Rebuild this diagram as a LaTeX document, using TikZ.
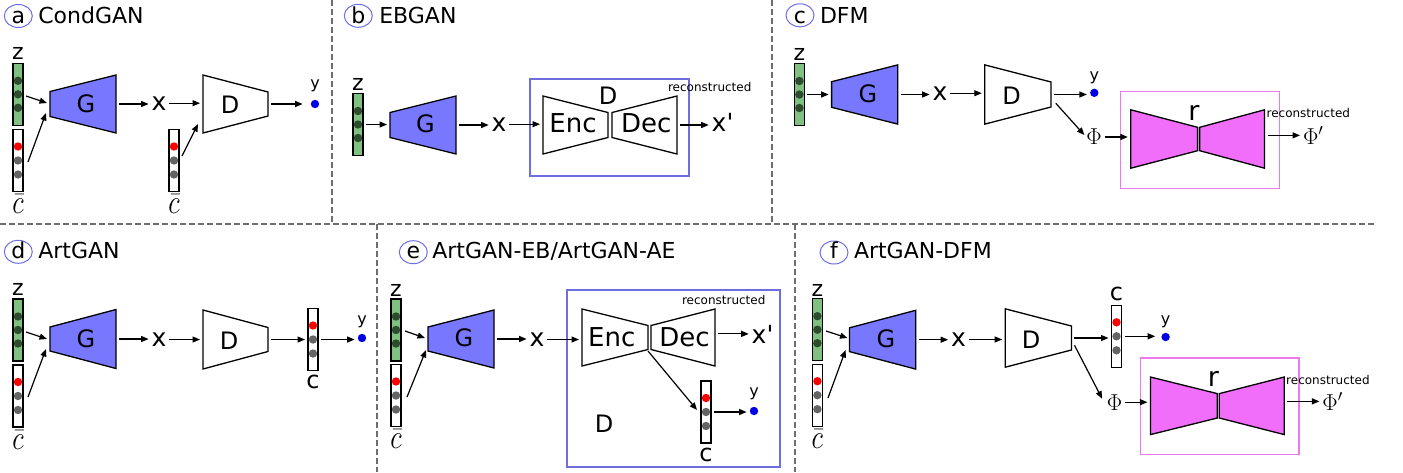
\RequirePackage{fix-cm}
\documentclass[tikz,border=0pt]{standalone}
\usepackage[no-math]{fontspec}
\setmainfont{DejaVu Sans}
\usetikzlibrary{arrows.meta,calc,shapes.geometric}
\definecolor{gblue}{RGB}{120,120,255}
\definecolor{zgreen}{RGB}{128,192,128}
\definecolor{zdotc}{RGB}{45,75,45}
\definecolor{gdotc}{RGB}{100,100,100}
\definecolor{ydotc}{RGB}{0,0,230}
\definecolor{circc}{RGB}{110,110,230}
\definecolor{boxb}{RGB}{110,110,225}
\definecolor{boxp}{RGB}{238,120,238}
\definecolor{rpink}{RGB}{240,110,250}
\definecolor{sepg}{RGB}{110,110,110}
\newcommand\fsz[1]{\fontsize{#1}{#1}\selectfont}
\newcommand\cbarlab{\scalebox{1}[1.25]{$\bar{c}$}}
\newcommand\trapz[7]{%
  \draw[#7] (#2,#4-#5) -- (#3,#4-#6) -- (#3,#4+#6) -- (#2,#4+#5) -- cycle;
  \node[inner sep=0pt, outer sep=0pt, minimum width={#3-#2}, minimum height={2*max(#5,#6)}] (#1) at ({(#2+#3)/2},#4) {};}
\newcommand\zdots[1]{\foreach \dy in {-13.5,0,13.5} {\fill[zdotc] ($(#1.center)+(0,\dy)$) circle (4.2pt);}}
\newcommand\cdotsr[1]{\fill[red] ($(#1.center)+(0,-14)$) circle (4.2pt);
  \fill[gdotc] (#1.center) circle (4.2pt);
  \fill[gdotc] ($(#1.center)+(0,14)$) circle (4.2pt);}
\begin{document}
\begin{tikzpicture}[x=1pt,y=-1pt,
 arr/.style={-{Triangle[length=7.5pt,width=6pt]}, line width=1.2pt},
 harr/.style={arr, shorten <=3pt, shorten >=3pt},
 trapw/.style={draw, line width=1.3pt, fill=white, line join=miter},
 trapg/.style={trapw, fill=gblue},
 trapr/.style={trapw, fill=rpink},
 vec/.style={draw, line width=1.2pt, minimum width=10pt, minimum height=62pt, inner sep=0pt, outer sep=0pt},
 zvec/.style={vec, fill=zgreen},
 cvec/.style={vec, fill=white},
 lab/.style={inner sep=0pt, outer sep=0pt},
 big/.style={lab, font=\fsz{24}},
 enc/.style={lab, font=\fsz{26}},
 xl/.style={lab, font=\fsz{25}},
 zl/.style={lab, font=\fsz{22}, anchor=base},
 yl/.style={lab, font=\fsz{16}, anchor=base},
 cl/.style={lab, font=\fsz{24}, anchor=base},
 cbl/.style={lab, font=\fsz{27}, anchor=base},
 rl/.style={lab, font=\fsz{27}, anchor=base},
 phl/.style={lab, font=\fsz{23}},
 rec/.style={lab, font=\fsz{12}, anchor=west},
 ttl/.style={lab, font=\fsz{22}, anchor=base west},
 tlet/.style={lab, font=\fsz{22}, anchor=base},
 tell/.style={ellipse, draw=circc, line width=1pt, minimum width=28pt, minimum height=23pt, inner sep=0pt},
 ydot/.style={circle, fill=ydotc, minimum size=8.4pt, inner sep=0pt},
 sepline/.style={draw=sepg, line width=1.2pt, dash pattern=on 6pt off 3pt},
 bbox/.style={draw=boxb, line width=1.4pt, inner sep=0pt},
 pbox/.style={draw=boxp, line width=1.5pt, inner sep=0pt}]
\useasboundingbox (0,0) rectangle (1403,472);
% separators
\draw[sepline] (0,224) -- (1376,224);
\draw[sepline] (332,0) -- (332,224);
\draw[sepline] (772,0) -- (772,224);
\draw[sepline] (377,224) -- (377,472);
\draw[sepline] (795,224) -- (795,472);
% ---------- panel a
\node[tell] (ea) at (18.3,16) {};
\node[tlet] (la) at (18.3,23.3) {a};
\node[ttl] (ta) at (38.3,23.3) {CondGAN};
\node[zvec] (za) at (18,94.3) {}; \zdots{za}
\node[zl] (zla) at (18,59.5) {z};
\node[cvec] (cba) at (18,160.5) {}; \cdotsr{cba}
\node[cbl] (cbla) at (18,213.3) {\cbarlab};
\trapz{GA}{50}{116}{104}{12.5}{29}{trapg}
\node[big] (GAt) at (85.8,103.5) {G};
\node[xl] (xA) at (159,103.2) {x};
\trapz{DA}{203}{268}{104}{29}{12}{trapw}
\node[big] (DAt) at (230,105) {D};
\node[cvec] (cb2a) at (174,160.5) {}; \cdotsr{cb2a}
\node[cbl] (cbl2a) at (174,213.3) {\cbarlab};
\node[ydot] (ya) at (315,104) {};
\node[yl] (yla) at (315,88.5) {y};
\draw[arr] ($(za.east)+(3,1.7)$) -- ($(GA.west)+(-3,-1)$);
\draw[arr] ($(cba.east)+(5,1.5)$) -- ($(GA.west)+(-4,9)$);
\draw[harr] (GA.east) -- (GA.east -| xA.west);
\draw[harr] (xA.east) -- (xA.east -| DA.west);
\draw[arr] ($(cb2a.east)+(3,-4.5)$) -- ($(DA.west)+(-5,20)$);
\draw[harr, shorten >=8pt] (DA.east) -- (DA.east -| ya.west);
% ---------- panel b
\node[tell] (eb) at (358.3,15.8) {};
\node[tlet] (lb) at (358.3,23.3) {b};
\node[ttl] (tb) at (379.3,23.3) {EBGAN};
\node[zvec] (zb) at (358,124.5) {}; \zdots{zb}
\node[zl] (zlb) at (358,90.5) {z};
\trapz{GB}{390}{456}{125}{12.5}{29}{trapg}
\node[big] (GBt) at (425.5,123.5) {G};
\node[xl] (xB) at (499,124.2) {x};
\node[bbox, minimum width=159pt, minimum height=97pt] (DBbox) at (609.5,127.5) {};
\trapz{EncB}{543}{608}{125}{29}{12.5}{trapw}
\trapz{DecB}{612}{677}{125}{12.5}{29}{trapw}
\node[enc] (EncBt) at (573,123.3) {Enc};
\node[enc] (DecBt) at (646.3,123.3) {Dec};
\node[big] (DBt) at (608,95.7) {D};
\node[rec] (recB) at (668,86.7) {reconstructed};
\node[xl, anchor=base west] (xpB) at (711.7,131) {x\textquotesingle};
\draw[harr] (zb.east) -- (zb.east -| GB.west);
\draw[harr] (GB.east) -- (GB.east -| xB.west);
\draw[harr] (xB.east) -- (xB.east -| EncB.west);
\draw[harr] (DecB.east) -- (DecB.east -| xpB.west);
% ---------- panel c
\node[tell] (ec) at (800,15.3) {};
\node[tlet] (lc) at (800,23.3) {c};
\node[ttl] (tc) at (820,23.3) {DFM};
\node[zvec] (zc) at (799.4,94.5) {}; \zdots{zc}
\node[zl] (zlc) at (799.4,60) {z};
\trapz{GC}{831.6}{897.7}{94.5}{12.8}{29.6}{trapg}
\node[big] (GCt) at (868,93.3) {G};
\node[xl] (xC) at (940,93.2) {x};
\trapz{DC}{984.8}{1051}{94.5}{29.6}{12.5}{trapw}
\node[big] (DCt) at (1011.6,96) {D};
\node[ydot] (yC) at (1094.3,92.8) {};
\node[yl] (ylc) at (1094.3,80) {y};
\node[phl] (phC) at (1094,137) {$\Phi$};
\node[pbox, minimum width=159pt, minimum height=96.6pt] (rCbox) at (1200,140) {};
\trapz{rLC}{1130.8}{1197.6}{139}{29.2}{11.7}{trapr}
\trapz{rRC}{1199.7}{1264.5}{139}{11.7}{29.2}{trapr}
\node[rl] (rlc) at (1194,120) {r};
\node[rec] (recC) at (1266.6,113.3) {reconstructed};
\node[phl, anchor=base west] (phpC) at (1303,144) {$\Phi'$};
\draw[harr] (zc.east) -- (zc.east -| GC.west);
\draw[harr] (GC.east) -- (GC.east -| xC.west);
\draw[harr] (xC.east) -- (xC.east -| DC.west);
\draw[harr] (DC.east) -- (DC.east -| yC.west);
\draw[arr] ($(DC.east)+(4.8,8.8)$) -- ($(phC.west)+(-2,-2)$);
\draw[harr] (phC.east) -- (phC.east -| rLC.west);
\draw[harr] (phpC.west -| rRC.east) -- (phpC.west);
% ---------- panel d
\node[tell] (ed) at (18.3,251.8) {};
\node[tlet] (ld) at (18.3,258.7) {d};
\node[ttl] (td) at (38.3,258.7) {ArtGAN};
\node[zvec] (zd) at (18,330) {}; \zdots{zd}
\node[zl] (zld) at (18,295) {z};
\node[cvec] (cbd) at (18,396) {}; \cdotsr{cbd}
\node[cbl] (cbld) at (18,449.5) {\cbarlab};
\trapz{GD}{50}{116}{339}{12}{29.5}{trapg}
\node[big] (GDt) at (85.8,339) {G};
\node[xl] (xD) at (159,339.5) {x};
\trapz{DD}{203}{268}{339.5}{29.5}{12}{trapw}
\node[big] (DDt) at (229,340.5) {D};
\node[cvec] (cD) at (313,339.5) {}; \cdotsr{cD}
\node[cl] (cld) at (313,388.7) {c};
\node[ydot] (yD) at (362,338) {};
\node[yl] (yld) at (362,324.7) {y};
\draw[arr] ($(zd.east)+(3,2)$) -- ($(GD.west)+(-3,0)$);
\draw[arr] ($(cbd.east)+(5,1)$) -- ($(GD.west)+(-4,10)$);
\draw[harr] (GD.east) -- (GD.east -| xD.west);
\draw[harr] (xD.east) -- (xD.east -| DD.west);
\draw[harr] (DD.east) -- (DD.east -| cD.west);
\draw[harr] (cD.east) -- (cD.east -| yD.west);
% ---------- panel e
\node[tell] (ee) at (413.3,252.2) {};
\node[tlet] (le) at (413.3,258.7) {e};
\node[ttl] (te) at (432.3,258.7) {ArtGAN-EB/ArtGAN-AE};
\node[zvec] (ze) at (396,330) {}; \zdots{ze}
\node[zl] (zle) at (396,296) {z};
\node[cvec] (cbe) at (396,395.5) {}; \cdotsr{cbe}
\node[cbl] (cble) at (396,448.7) {\cbarlab};
\trapz{GE}{428}{494}{339}{12}{29}{trapg}
\node[big] (GEt) at (464,337.7) {G};
\node[xl] (xE) at (537,339.5) {x};
\node[bbox, line width=2pt, minimum width=213pt, minimum height=177pt] (DEbox) at (673.5,378.5) {};
\trapz{EncE}{582}{648}{337.5}{28.5}{12}{trapw}
\trapz{DecE}{651}{715}{337.5}{12}{28.5}{trapw}
\node[enc] (EncEt) at (611.7,337.7) {Enc};
\node[enc] (DecEt) at (684.5,337.7) {Dec};
\node[rec] (recE) at (682,300) {reconstructed};
\node[xl, anchor=base west] (xpE) at (751.7,343) {x\textquotesingle};
\node[cvec] (cE) at (706,412) {}; \cdotsr{cE}
\node[cl] (cle) at (706,461) {c};
\node[ydot] (yE) at (754,411) {};
\node[yl] (yle) at (754,396.5) {y};
\node[big] (DEt) at (604,424) {D};
\draw[arr] ($(ze.east)+(4,1)$) -- ($(GE.west)+(-3,-1)$);
\draw[arr] ($(cbe.east)+(6,1.5)$) -- ($(GE.west)+(-2,11)$);
\draw[harr] (GE.east) -- (GE.east -| xE.west);
\draw[harr] (xE.east) -- (xE.east -| EncE.west);
\draw[harr] (xpE.west -| DecE.east) -- (xpE.west);
\draw[arr] ($(EncE.east)+(0,13.5)$) -- ($(cE.west)+(-4,-2)$);
\draw[harr] (cE.east) -- (cE.east -| yE.west);
% ---------- panel f
\node[tell] (ef) at (834,252.5) {};
\node[tlet] (lf) at (834,258.7) {f};
\node[ttl] (tf) at (854,258.7) {ArtGAN-DFM};
\node[zvec] (zf) at (817.4,329.7) {}; \zdots{zf}
\node[zl] (zlf) at (817.4,296) {z};
\node[cvec] (cbf) at (817.4,395.2) {}; \cdotsr{cbf}
\node[cbl] (cblf) at (817.4,448) {\cbarlab};
\trapz{GF}{849.5}{915.7}{339.7}{11.9}{29.4}{trapg}
\node[big] (GFt) at (886,338.5) {G};
\node[xl] (xF) at (958.5,339.5) {x};
\trapz{DF}{1005.2}{1071.4}{338}{29.2}{12}{trapw}
\node[big] (DFt) at (1031,340) {D};
\node[cvec] (cF) at (1116.5,336.3) {}; \cdotsr{cF}
\node[cl] (clf) at (1116.5,300.5) {c};
\node[ydot] (yF) at (1165.6,337) {};
\node[yl] (ylf) at (1165.6,324) {y};
\node[phl] (phF) at (1114.6,402.2) {$\Phi$};
\node[pbox, minimum width=158.7pt, minimum height=96.7pt] (rFbox) at (1219.65,406.35) {};
\trapz{rLF}{1150.4}{1217.3}{405.8}{28.8}{12.2}{trapr}
\trapz{rRF}{1219.3}{1284.3}{405.8}{12.2}{28.8}{trapr}
\node[rl] (rlf) at (1213.4,386.3) {r};
\node[rec] (recF) at (1286.2,379.7) {reconstructed};
\node[phl, anchor=base west] (phpF) at (1322.4,410) {$\Phi'$};
\draw[arr] ($(zf.east)+(3.6,1.3)$) -- ($(GF.west)+(-2,-1.7)$);
\draw[arr] ($(cbf.east)+(5.6,2.8)$) -- ($(GF.west)+(-3.9,10.3)$);
\draw[harr] (GF.east) -- (GF.east -| xF.west);
\draw[harr] (xF.east) -- (xF.east -| DF.west);
\draw[harr] (DF.east) -- (DF.east -| cF.west);
\draw[harr, shorten >=6pt] (cF.east) -- (cF.east -| yF.west);
\draw[arr] ($(DF.east)+(3.1,7.3)$) -- ($(phF.west)+(-4.8,-3.5)$);
\draw[harr] (phF.east) -- (phF.east -| rLF.west);
\draw[harr] (phpF.west -| rRF.east) -- (phpF.west);
\end{tikzpicture}
\end{document}
